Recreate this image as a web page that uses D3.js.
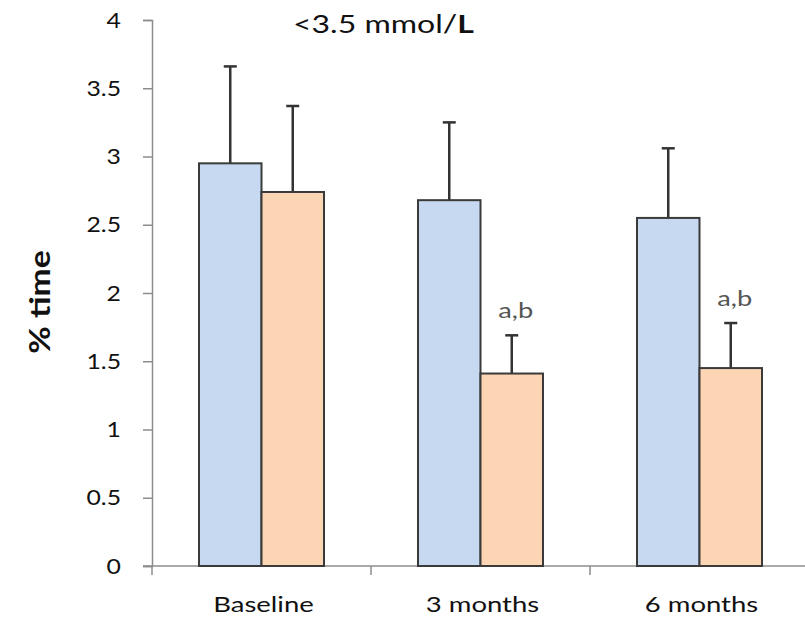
<!DOCTYPE html>
<html>
<head>
<meta charset="utf-8">
<script src="https://cdn.jsdelivr.net/npm/d3@7"></script>
<style>
body { margin: 0; background: #fff; }
text { font-family: Lato, "Open Sans", sans-serif; }
</style>
</head>
<body>
<div id="graphdiv"></div>
<script>
var categories = ["Baseline", "3 months", "6 months"];
var series = ["control", "treated"];
var means = [[2.95, 2.74], [2.68, 1.41], [2.55, 1.45]];
var errTops = [[3.66, 3.37], [3.25, 1.69], [3.06, 1.78]];
var marks = [["", ""], ["", "a,b"], ["", "a,b"]];
var yTicks = [0, 0.5, 1, 1.5, 2, 2.5, 3, 3.5, 4];
var colors = ["#c6d9f1", "#fcd5b5"];

// text in the picture is a bit wider than the font, stretch it
var stretch = 1.22;

var svg = d3.select("#graphdiv").append("svg").attr("width", 805).attr("height", 618);

var y = d3.scaleLinear().domain([0, 4]).range([566, 20]);
var x0 = d3.scaleBand().domain(categories).range([152, 809]);
var x1 = d3.scaleBand().domain(series).range([0, x0.bandwidth()]).paddingOuter(0.752);

function placeText(sel, x, yy, sx) {
    sel.attr("transform", "translate(" + x + "," + yy + ") scale(" + sx + ",1)");
}

// y axis
var yAxis = svg.append("g").attr("transform", "translate(152,0)")
    .call(d3.axisLeft(y).tickValues(yTicks).tickSize(9).tickFormat(d3.format("")));
yAxis.select(".domain").attr("stroke", "#8c8c8c").attr("stroke-width", 1.5);
yAxis.selectAll(".tick line").attr("stroke", "#8c8c8c").attr("stroke-width", 1.5);
yAxis.selectAll(".tick text").attr("font-size", 21).attr("fill", "#111")
    .attr("x", 0).attr("dy", "0.34em")
    .attr("transform", "translate(-31,0) scale(1.18,1)")
    .style("font-family", "Lato, sans-serif");

// x axis
var xAxis = svg.append("g").attr("transform", "translate(0,566)");
xAxis.append("line").attr("x1", 143).attr("x2", 805).attr("y1", 0).attr("y2", 0)
    .attr("stroke", "#8c8c8c").attr("stroke-width", 1.5);
var bounds = categories.map(function(c) { return x0(c); });
xAxis.selectAll(".xt").data(bounds).enter().append("line")
    .attr("x1", function(d) { return d; }).attr("x2", function(d) { return d; })
    .attr("y1", 0).attr("y2", 9).attr("stroke", "#8c8c8c").attr("stroke-width", 1.5);
xAxis.selectAll(".xl").data(categories).enter().append("text")
    .attr("text-anchor", "middle").attr("font-size", 22).attr("fill", "#111")
    .attr("transform", function(d) {
        return "translate(" + (x0(d) + x0.bandwidth() / 2 + 2) + ",46) scale(1.25,1)";
    })
    .text(function(d) { return d; });

// bars
var groups = svg.selectAll(".grp").data(categories).enter().append("g")
    .attr("transform", function(d) { return "translate(" + x0(d) + ",0)"; });

groups.each(function(c, i) {
    var g = d3.select(this);
    var rows = series.map(function(s, j) {
        return { s: s, j: j, v: means[i][j], e: errTops[i][j], m: marks[i][j] };
    });
    // error bars behind bars
    g.selectAll(".err").data(rows).enter().append("line")
        .attr("x1", function(d) { return x1(d.s) + x1.bandwidth() / 2; })
        .attr("x2", function(d) { return x1(d.s) + x1.bandwidth() / 2; })
        .attr("y1", function(d) { return y(d.v); })
        .attr("y2", function(d) { return y(d.e); })
        .attr("stroke", "#333").attr("stroke-width", 2.5);
    g.selectAll(".cap").data(rows).enter().append("line")
        .attr("x1", function(d) { return x1(d.s) + x1.bandwidth() / 2 - 6.5; })
        .attr("x2", function(d) { return x1(d.s) + x1.bandwidth() / 2 + 6.5; })
        .attr("y1", function(d) { return y(d.e); })
        .attr("y2", function(d) { return y(d.e); })
        .attr("stroke", "#333").attr("stroke-width", 2.5);
    g.selectAll(".bar").data(rows).enter().append("rect")
        .attr("x", function(d) { return x1(d.s); })
        .attr("y", function(d) { return y(d.v); })
        .attr("width", x1.bandwidth())
        .attr("height", function(d) { return y(0) - y(d.v); })
        .attr("fill", function(d) { return colors[d.j]; })
        .attr("stroke", "#3a3a3a").attr("stroke-width", 2);
    g.selectAll(".mark").data(rows.filter(function(d) { return d.m; })).enter().append("text")
        .attr("text-anchor", "middle").attr("font-size", 21).attr("fill", "#555")
        .attr("transform", function(d) {
            return "translate(" + (x1(d.s) + x1.bandwidth() / 2 + 4) + "," + (y(d.e) - 17) + ") scale(1.3,1)";
        })
        .text(function(d) { return d.m; });
});

// title
var title = svg.append("text").attr("font-size", 25).attr("fill", "#111");
placeText(title, 293, 33, 1.28);
title.append("tspan").text("<3.5 mmol/");
title.append("tspan").attr("font-weight", "bold").text("L");

// y label
svg.append("text").attr("transform", "translate(50,302) rotate(-90) scale(1.2,1)")
    .attr("text-anchor", "middle").attr("font-size", 28).attr("font-weight", "bold").attr("fill", "#111")
    .text("% time");
</script>
</body>
</html>
